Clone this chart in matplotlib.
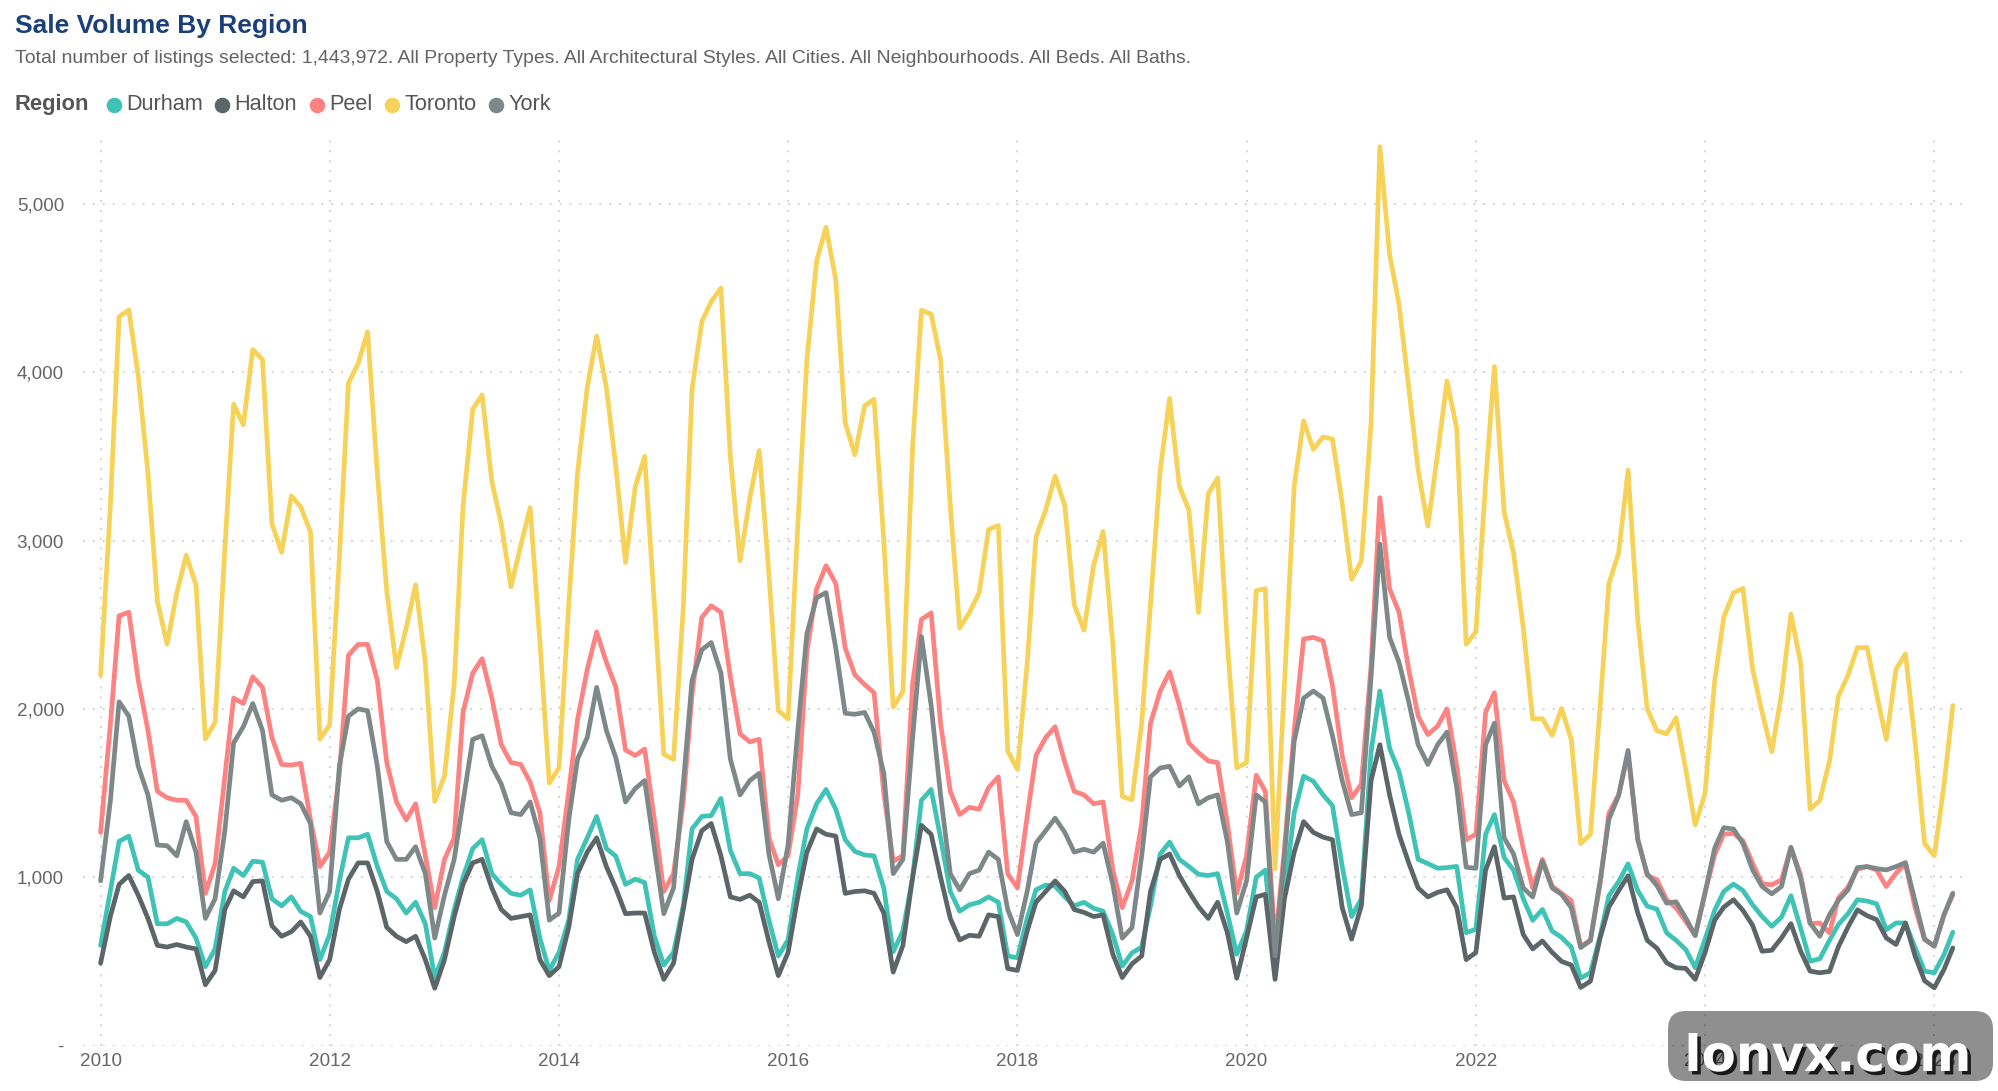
import matplotlib
matplotlib.use('Agg')
import matplotlib.pyplot as plt
import matplotlib.dates as mdates
import matplotlib.patheffects as pe
from matplotlib.patches import FancyBboxPatch
from matplotlib.lines import Line2D
from matplotlib.transforms import IdentityTransform
import pandas as pd

plt.rcParams['font.family'] = ['Liberation Sans', 'DejaVu Sans']

# ---------------- data (monthly sale volume, Jan 2010 - Mar 2026) ----------------
region_names = ['Durham', 'Halton', 'Peel', 'Toronto', 'York']
region_colors = ['#3FC3B6', '#5C6567', '#FD8383', '#F6D358', '#7F8888']

durham = [
    595, 915, 1213, 1244, 1042, 1000, 723, 723, 755, 734, 638, 468,
    574, 915, 1053, 1010, 1095, 1089, 872, 830, 883, 797, 766, 510,
    659, 978, 1234, 1234, 1255, 1063, 915, 872, 787, 851, 723, 404,
    553, 808, 1000, 1170, 1223, 1021, 957, 904, 893, 925, 638, 446,
    553, 745, 1106, 1234, 1361, 1170, 1125, 957, 989, 968, 649, 478,
    553, 830, 1287, 1361, 1366, 1468, 1159, 1021, 1021, 995, 744, 532,
    627, 1000, 1287, 1436, 1521, 1404, 1223, 1153, 1132, 1127, 936, 557,
    680, 1000, 1457, 1521, 1234, 915, 798, 836, 851, 883, 851, 532,
    521, 755, 925, 953, 947, 883, 830, 851, 815, 798, 659, 472,
    550, 585, 830, 1138, 1208, 1106, 1064, 1017, 1010, 1021, 787, 542,
    680, 1000, 1042, 510, 915, 1383, 1600, 1570, 1489, 1425, 1064, 766,
    872, 1745, 2106, 1766, 1628, 1383, 1106, 1081, 1053, 1057, 1064, 670,
    691, 1255, 1372, 1117, 1042, 872, 744, 808, 680, 642, 585, 400,
    433, 650, 890, 974, 1079, 920, 828, 810, 669, 625, 570, 462,
    629, 803, 915, 959, 921, 836, 767, 708, 763, 890, 698, 501,
    515, 625, 718, 783, 866, 858, 842, 688, 728, 728, 580, 442,
    432, 540, 673,
]

halton = [
    489, 766, 957, 1010, 893, 755, 595, 585, 600, 585, 574, 361,
    446, 808, 919, 883, 974, 978, 712, 649, 676, 734, 649, 404,
    510, 808, 989, 1085, 1085, 915, 702, 649, 617, 649, 510, 340,
    510, 766, 957, 1085, 1106, 936, 808, 755, 766, 776, 510, 415,
    468, 702, 1021, 1149, 1234, 1063, 935, 783, 787, 787, 553, 393,
    489, 808, 1106, 1276, 1319, 1127, 883, 868, 893, 851, 617, 415,
    553, 883, 1149, 1287, 1255, 1244, 904, 915, 919, 904, 787, 436,
    595, 1000, 1308, 1255, 1000, 755, 627, 655, 649, 776, 766, 457,
    446, 680, 851, 915, 978, 915, 808, 791, 766, 776, 542, 404,
    485, 532, 915, 1106, 1138, 1010, 915, 825, 755, 851, 670, 400,
    638, 883, 898, 393, 872, 1149, 1330, 1266, 1238, 1223, 819, 632,
    830, 1574, 1787, 1489, 1255, 1085, 936, 883, 910, 925, 819, 510,
    553, 1042, 1181, 876, 883, 659, 574, 621, 553, 500, 478, 345,
    382, 639, 823, 920, 1008, 787, 625, 578, 491, 462, 458, 393,
    550, 744, 822, 866, 803, 714, 560, 566, 639, 724, 560, 442,
    432, 440, 585, 704, 806, 771, 748, 639, 600, 728, 530, 385,
    343, 452, 580,
]

peel = [
    1266, 1900, 2553, 2574, 2170, 1872, 1510, 1472, 1457, 1457, 1361, 904,
    1080, 1600, 2064, 2032, 2191, 2128, 1830, 1670, 1666, 1676, 1340, 1063,
    1149, 1617, 2319, 2383, 2383, 2170, 1681, 1447, 1340, 1436, 1127, 819,
    1106, 1234, 1979, 2213, 2298, 2064, 1787, 1681, 1670, 1564, 1383, 861,
    1063, 1510, 1936, 2234, 2457, 2277, 2130, 1755, 1723, 1761, 1340, 915,
    1021, 1447, 2085, 2543, 2613, 2574, 2191, 1851, 1804, 1819, 1234, 1074,
    1127, 1489, 2340, 2713, 2851, 2745, 2362, 2202, 2145, 2096, 1500, 1095,
    1127, 2150, 2532, 2570, 1915, 1510, 1372, 1415, 1404, 1532, 1596, 1021,
    936, 1361, 1723, 1830, 1894, 1681, 1510, 1489, 1436, 1447, 1042, 819,
    978, 1319, 1915, 2106, 2219, 2021, 1798, 1740, 1691, 1681, 1319, 904,
    1127, 1606, 1510, 600, 1170, 1872, 2415, 2425, 2404, 2138, 1723, 1472,
    1553, 2255, 3255, 2713, 2574, 2234, 1957, 1847, 1898, 2000, 1659, 1223,
    1255, 1979, 2096, 1574, 1447, 1170, 936, 1106, 947, 904, 861, 590,
    625, 960, 1380, 1490, 1734, 1230, 1010, 985, 866, 817, 738, 653,
    905, 1132, 1256, 1260, 1217, 1083, 961, 955, 984, 1177, 1014, 724,
    728, 669, 876, 941, 1047, 1063, 1043, 945, 1024, 1079, 817, 629,
    590, 777, 896,
]

toronto = [
    2200, 3200, 4330, 4370, 3980, 3400, 2640, 2385, 2690, 2913, 2737, 1822,
    1920, 2950, 3810, 3688, 4134, 4075, 3100, 2930, 3265, 3200, 3050, 1820,
    1905, 2900, 3935, 4052, 4240, 3400, 2700, 2245, 2480, 2737, 2270, 1450,
    1600, 2150, 3200, 3780, 3865, 3350, 3100, 2725, 2970, 3195, 2400, 1560,
    1650, 2620, 3400, 3910, 4216, 3910, 3441, 2870, 3320, 3500, 2620, 1730,
    1700, 2600, 3900, 4300, 4420, 4500, 3500, 2880, 3250, 3535, 2800, 1990,
    1940, 3090, 4075, 4662, 4862, 4550, 3700, 3510, 3800, 3840, 3000, 2010,
    2104, 3559, 4369, 4345, 4075, 3207, 2480, 2573, 2690, 3066, 3090, 1750,
    1640, 2268, 3019, 3183, 3383, 3207, 2620, 2468, 2855, 3054, 2385, 1480,
    1460, 1916, 2620, 3418, 3845, 3324, 3183, 2573, 3277, 3371, 2385, 1650,
    1680, 2702, 2714, 1050, 2150, 3324, 3711, 3542, 3616, 3603, 3222, 2770,
    2877, 3700, 5340, 4700, 4404, 3911, 3419, 3086, 3517, 3948, 3665, 2384,
    2458, 3345, 4034, 3172, 2926, 2483, 1941, 1941, 1843, 2003, 1818, 1200,
    1255, 2018, 2745, 2927, 3418, 2527, 2000, 1870, 1852, 1947, 1640, 1310,
    1495, 2164, 2545, 2690, 2716, 2236, 1982, 1745, 2090, 2564, 2273, 1405,
    1455, 1690, 2073, 2200, 2364, 2364, 2090, 1818, 2236, 2327, 1800, 1200,
    1127, 1550, 2020,
]

york = [
    978, 1450, 2042, 1957, 1659, 1489, 1191, 1187, 1127, 1330, 1149, 755,
    872, 1276, 1798, 1894, 2032, 1872, 1489, 1457, 1472, 1436, 1319, 787,
    915, 1659, 1957, 2000, 1989, 1659, 1212, 1106, 1106, 1181, 1021, 638,
    893, 1106, 1447, 1819, 1840, 1659, 1553, 1383, 1372, 1447, 1234, 745,
    787, 1340, 1702, 1830, 2128, 1872, 1710, 1447, 1527, 1574, 1170, 783,
    936, 1553, 2170, 2351, 2394, 2213, 1702, 1489, 1574, 1617, 1138, 872,
    1191, 1872, 2447, 2660, 2691, 2362, 1974, 1968, 1979, 1862, 1617, 1021,
    1106, 1830, 2430, 2021, 1489, 1021, 925, 1021, 1042, 1149, 1106, 808,
    659, 915, 1202, 1276, 1351, 1266, 1149, 1166, 1149, 1202, 957, 638,
    700, 1127, 1596, 1649, 1659, 1542, 1596, 1436, 1472, 1489, 1212, 787,
    978, 1489, 1447, 532, 1127, 1808, 2064, 2106, 2064, 1840, 1574, 1372,
    1383, 2191, 2979, 2425, 2277, 2042, 1787, 1670, 1787, 1862, 1532, 1059,
    1053, 1787, 1915, 1234, 1138, 936, 883, 1095, 936, 898, 819, 582,
    623, 980, 1345, 1485, 1753, 1220, 1020, 950, 846, 854, 757, 653,
    905, 1172, 1294, 1286, 1201, 1043, 945, 901, 945, 1177, 994, 728,
    649, 777, 862, 925, 1057, 1063, 1051, 1043, 1063, 1087, 856, 633,
    590, 777, 905,
]

start_month = '2010-01-01'
x_tick_years = [2010, 2012, 2014, 2016, 2018, 2020, 2022, 2024, 2026]
y_ticks = [0, 1000, 2000, 3000, 4000, 5000]
y_tick_labels = ['-', '1,000', '2,000', '3,000', '4,000', '5,000']

title = 'Sale Volume By Region'
subtitle = ('Total number of listings selected: 1,443,972. All Property Types. '
            'All Architectural Styles. All Cities. All Neighbourhoods. All Beds. All Baths.')

# ---------------- figure ----------------
W, H = 1999, 1091
fig = plt.figure(figsize=(W / 100, H / 100), dpi=100)
fig.patch.set_facecolor('white')

ax_left, ax_right, ax_top, ax_bottom = 83, 1966, 140, 1045.5
ax = fig.add_axes([ax_left / W, 1 - ax_bottom / H,
                   (ax_right - ax_left) / W, (ax_bottom - ax_top) / H])

dates = pd.date_range(start_month, periods=len(toronto), freq='MS')
series = [durham, halton, peel, toronto, york]
for name, vals, col in zip(region_names, series, region_colors):
    ax.plot(dates, vals, color=col, lw=3.4, solid_joinstyle='round',
            solid_capstyle='round', label=name)

ax.set_xlim(pd.Timestamp('2009-11-06'), pd.Timestamp('2026-04-12'))
ax.set_ylim(0, 5380)

ax.set_xticks([pd.Timestamp(f'{y}-01-01') for y in x_tick_years])
ax.xaxis.set_major_formatter(mdates.DateFormatter('%Y'))
ax.set_yticks(y_ticks)
ax.set_yticklabels(y_tick_labels)

for s in ax.spines.values():
    s.set_visible(False)
ax.tick_params(axis='both', length=0, labelsize=13.6, labelcolor='#666666')
ax.tick_params(axis='y', pad=13.7)
ax.tick_params(axis='x', pad=5.5)
ax.grid(True, color='#CFCFCF', linestyle=(0, (1, 4.5)), linewidth=1.3)
ax.set_axisbelow(True)

# ---------------- titles ----------------
fig.text(15 / W, 1 - 25.5 / H, title, fontsize=19, weight='bold',
         color='#1B4079', ha='left', va='center')
fig.text(15 / W, 1 - 58.6 / H, subtitle, fontsize=13.95, color='#636363',
         ha='left', va='center')

# ---------------- legend ----------------
renderer = fig.canvas.get_renderer()
ly = 1 - 104.5 / H
t = fig.text(15 / W, ly, 'Region', fontsize=15.8, weight='bold',
             color='#555555', ha='left', va='center')
xend = t.get_window_extent(renderer).x1
gap = 24
for name, col in zip(region_names, region_colors):
    cx = xend + gap
    fig.add_artist(Line2D([cx / W], [ly], marker='o', markersize=11.2,
                          markeredgewidth=0, color=col, linestyle='none',
                          transform=fig.transFigure))
    t = fig.text((cx + 12.5) / W, ly, name, fontsize=15.6, color='#555555',
                 ha='left', va='center')
    xend = t.get_window_extent(renderer).x1
    gap = 19.5

# ---------------- watermark ----------------
box = FancyBboxPatch((1668, H - 1081), 1993 - 1668, 70,
                     boxstyle='round,pad=0,rounding_size=18',
                     transform=IdentityTransform(), facecolor='black',
                     alpha=0.44, edgecolor='none', zorder=10)
fig.add_artist(box)
wm = fig.text(1828 / W, 1 - 1071 / H, 'lonvx.com', fontsize=36, weight='bold',
              family='DejaVu Sans', color='white', ha='center', va='baseline',
              zorder=11)
wm.set_path_effects([pe.SimplePatchShadow(offset=(2.5, -2.5),
                                          shadow_rgbFace='#1a1a1a', alpha=1.0),
                     pe.Normal()])

fig.savefig('out.png', dpi=100, facecolor='white')
